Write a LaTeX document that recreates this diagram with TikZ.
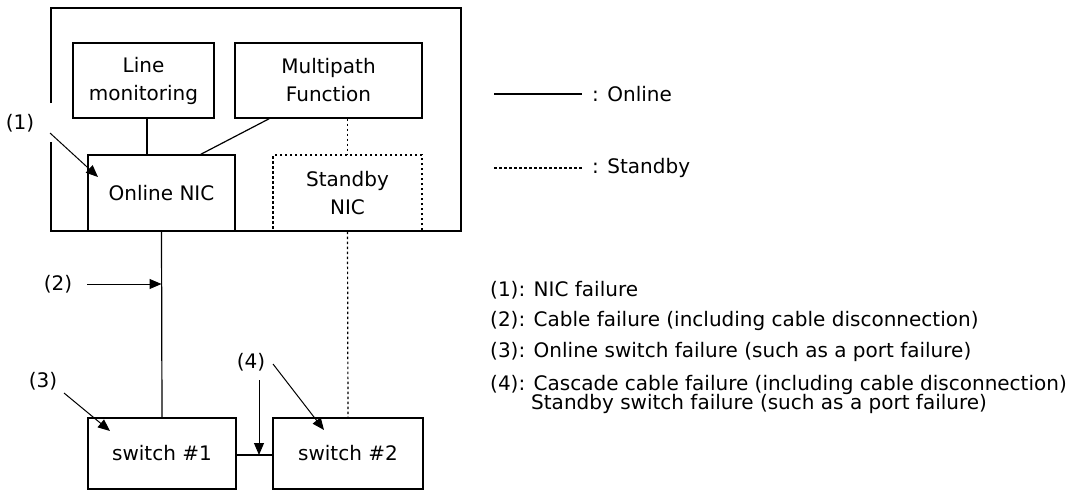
\documentclass[tikz,border=0pt]{standalone}
\usepackage{fontspec}
\setmainfont{DejaVu Sans}
\usetikzlibrary{arrows.meta}
\begin{document}
\begin{tikzpicture}[x=1pt,y=-1pt,
  every node/.style={font=\fontsize{20}{28}\selectfont, inner sep=0pt},
  box/.style={draw, line width=1.2pt, align=center},
  sbox/.style={draw, line width=1.2pt, align=center, dash pattern=on 2.5pt off 2.5pt},
  conn/.style={line width=1.2pt},
  sconn/.style={line width=1.2pt, dash pattern=on 2.5pt off 2.5pt},
  arr/.style={line width=1pt, -{Triangle[length=12pt,width=10pt]}},
  lbl/.style={anchor=center},
  item/.style={anchor=west}
]
\useasboundingbox (0,0) rectangle (1071,490);
% outer frame (with gap for arrow (1))
\draw[line width=1.2pt] (51,103) -- (51,8) -- (461,8) -- (461,231) -- (51,231) -- (51,142);
% boxes
\node[box, minimum width=141pt, minimum height=75pt] (lm) at (143.5,80.5) {Line\\monitoring};
\node[box, minimum width=187pt, minimum height=75pt] (mp) at (328.5,80.5) {Multipath\\Function};
\node[box, minimum width=147pt, minimum height=76pt] (nic) at (161.5,193) {Online NIC};
\node[sbox, minimum width=149pt, minimum height=76pt] (sb) at (347.5,193) {Standby\\NIC};
\node[box, minimum width=148pt, minimum height=71pt] (sw1) at (162,453.5) {switch \#1};
\node[box, minimum width=150pt, minimum height=71pt] (sw2) at (348,453.5) {switch \#2};
% connectors
\draw[conn] (lm.south -| 147,0) -- (nic.north -| 147,0);
\draw[conn] ([xshift=35pt]mp.south west) -- ([xshift=-35pt]nic.north east);
\draw[sconn] (sb.north |- mp.south) -- (sb.north);
\draw[conn] (nic.south) -- (sw1.north);
\draw[sconn] (sb.south) -- (sw2.north);
\draw[conn] (sw1.east |- 0,455) coordinate (cl) -- (sw2.west |- 0,455) coordinate (cr);
% failure labels and arrows
\node[lbl] (l1) at (20,123) {(1)};
\node[lbl] (l2) at (58,284) {(2)};
\node[lbl] (l3) at (43,381) {(3)};
\node[lbl] (l4) at (251,362) {(4)};
\coordinate (t1) at (98,177);
\coordinate (t2) at (nic.south |- 0,284);
\coordinate (t3) at (110,431);
\coordinate (t4) at (324,430);
\coordinate (t5) at (259,455);
\draw[arr] (50,133) -- (t1);
\draw[arr] (87,284) -- (t2);
\draw[arr] (64,393) -- (t3);
\draw[arr] (273,364) -- (t4);
\draw[arr] (259,380) -- (t5);
% legend
\coordinate (lg1a) at (494,94); \coordinate (lg1b) at (582,94);
\coordinate (lg2a) at (494,168); \coordinate (lg2b) at (582,168);
\draw[line width=1.2pt] (lg1a) -- (lg1b);
\draw[line width=1.2pt, dash pattern=on 2.5pt off 2.5pt] (lg2a) -- (lg2b);
\node[item] (on) at (592,94) {: Online};
\node[item] (sbl) at (592,168) {: Standby};
% list
\node[item] (i1) at (490,290) {(1): NIC failure};
\node[item] (i2) at (490,321) {(2): Cable failure (including cable disconnection)};
\node[item] (i3) at (490,352) {(3): Online switch failure (such as a port failure)};
\node[item] (i4) at (490,385) {(4): Cascade cable failure (including cable disconnection)};
\node[item] (i5) at (531,404) {Standby switch failure (such as a port failure)};
\end{tikzpicture}
\end{document}
